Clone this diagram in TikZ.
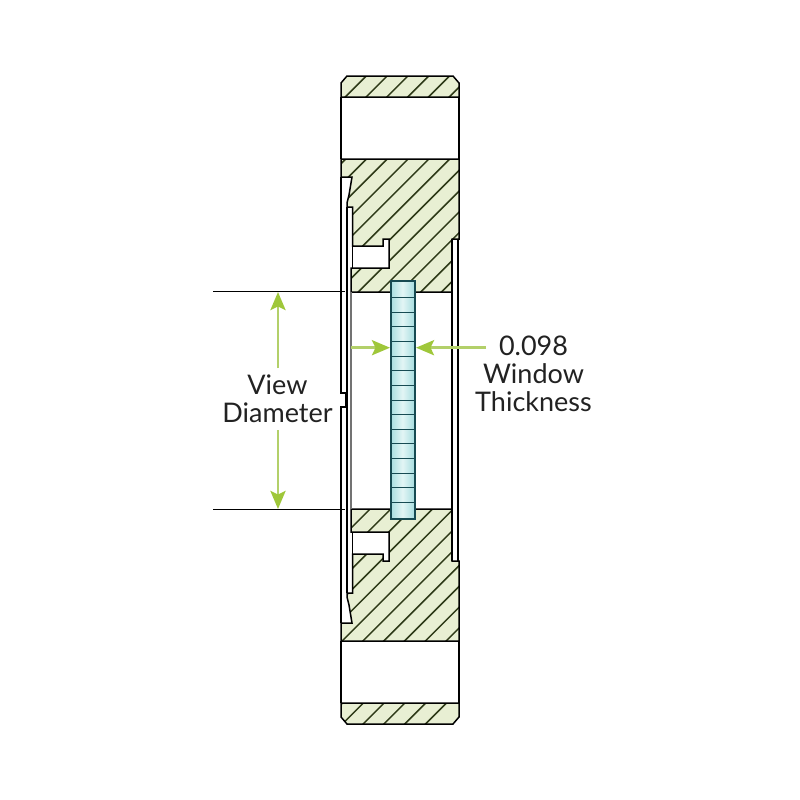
\documentclass[tikz,border=0pt]{standalone}
\usepackage{fontspec}
\setmainfont{Lato}
\usetikzlibrary{arrows.meta}
\definecolor{bodyfill}{HTML}{E8EFD3}
\definecolor{hatchcol}{HTML}{2E3A18}
\definecolor{glassedge}{HTML}{174A52}
\definecolor{arrowline}{HTML}{B3D06A}
\definecolor{arrowhead}{HTML}{9FC73A}
\definecolor{labelcol}{HTML}{222222}
\definecolor{stripA}{HTML}{A9DEE0}
\definecolor{stripB}{HTML}{E2F5F5}
\tikzset{
  x=1pt,y=-1pt,
  partline/.style={draw=black,line width=1.5pt,line join=miter},
  hatchline/.style={draw=hatchcol,line width=1.5pt},
  leader/.style={draw=black,line width=1.1pt},
  dimarrow/.style={draw=arrowline,line width=2.8pt,-{Stealth[length=18pt,width=15pt,inset=3.5pt,color=arrowhead]}},
  dimlabel/.style={font=\fontsize{27}{28}\selectfont,text=labelcol,align=center,inner sep=0pt},
  glassrule/.style={draw=glassedge,line width=1.4pt},
}
\newcommand{\hatchall}{%
  \foreach \k in {0,...,34}{%
    \draw[hatchline] ({442.3+20.8*\k},0) -- (0,{442.3+20.8*\k});
  }%
}
\newcommand{\toppoly}{(347,76) -- (453,76) -- (459,83) -- (459,97) -- (341,97) -- (341,83) -- cycle}
\newcommand{\botpoly}{(347,724) -- (453,724) -- (459,717) -- (459,703) -- (341,703) -- (341,717) -- cycle}
\newcommand{\upperpoly}{(341,159) -- (459,159) -- (459,239) -- (452,239) -- (452,292) -- (351,292) -- (351,268) -- (389,268) -- (389,239) -- (383,239) -- (383,246) -- (352.5,246) -- (352.5,207) -- (347,207) -- (347,203) -- (349,195) -- (352,177) -- (341,177) -- cycle}
\newcommand{\lowerpoly}{(341,641) -- (459,641) -- (459,561) -- (452,561) -- (452,509) -- (351,509) -- (351,532) -- (389,532) -- (389,561) -- (383,561) -- (383,554) -- (352.5,554) -- (352.5,593) -- (347,593) -- (347,597) -- (349,605) -- (352,623) -- (341,623) -- cycle}
\begin{document}
\begin{tikzpicture}
\useasboundingbox (0,0) rectangle (800,800);
\fill[white] (0,0) rectangle (800,800);
% hatched section faces
\fill[bodyfill] \toppoly;
\fill[bodyfill] \botpoly;
\fill[bodyfill] \upperpoly;
\fill[bodyfill] \lowerpoly;
\begin{scope}\clip \toppoly;\hatchall\end{scope}
\begin{scope}\clip \botpoly;\hatchall\end{scope}
\begin{scope}\clip \upperpoly;\hatchall\end{scope}
\begin{scope}\clip \lowerpoly;\hatchall\end{scope}
\draw[partline] \toppoly;
\draw[partline] \botpoly;
\draw[partline] \upperpoly;
\draw[partline] \lowerpoly;
% white gaps between flange sections
\draw[partline] (341,97) -- (341,159);
\draw[partline] (459,97) -- (459,159);
\draw[partline] (341,641) -- (341,703);
\draw[partline] (459,641) -- (459,703);
% left retaining plate
\draw[partline] (341,177) -- (341,393) -- (346,393) -- (346,407) -- (341,407) -- (341,623);
\draw[partline] (347,207) -- (347,593);
\draw[draw=black!55,line width=1.2pt] (351,292) -- (351,509);
\draw[partline] (352.5,246) -- (352.5,268);
\draw[partline] (352.5,532) -- (352.5,554);
% right slot
\draw[partline] (452,239) -- (452,561);
\draw[partline] (458.2,239) -- (458.2,561);
% window: side-to-side tint built from strips
\foreach \i in {0,...,23}{%
  \pgfmathsetmacro{\mixv}{100-100*abs(\i-11.5)/11.5}
  \fill[stripB!\mixv!stripA] ({391+\i},281.5) rectangle ({392.2+\i},519.5);
}
\foreach \k in {-7,...,7}{%
  \pgfmathsetmacro{\ruley}{floor(400+14.65*\k)+0.5}
  \draw[glassrule] (391.5,\ruley) -- (414.5,\ruley);
}
\fill[glassedge] (390.3,280.4) rectangle (392.4,520.4);
\fill[glassedge] (413.6,280.4) rectangle (415.7,520.4);
\fill[glassedge] (390.3,280.4) rectangle (415.7,282.4);
\fill[glassedge] (390.3,518.4) rectangle (415.7,520.4);
% dimension leaders
\coordinate (ltop) at (213,291.5);
\coordinate (ltopend) at (345,291.5);
\coordinate (lbot) at (213,509.5);
\coordinate (lbotend) at (345,509.5);
\draw[leader] (ltop) -- (ltopend);
\draw[leader] (lbot) -- (lbotend);
% labels
\node[dimlabel] (viewlabel) at (277.5,399) {View\\Diameter};
\node[dimlabel] (thicklabel) at (533.5,373.5) {0.098\\Window\\Thickness};
% dimension arrows
\coordinate (vupstart) at (278,368);
\coordinate (vuptip) at (278,292);
\coordinate (vdownstart) at (278,430);
\coordinate (vdowntip) at (278,509);
\coordinate (hleftstart) at (351,347.7);
\coordinate (hlefttip) at (390,347.7);
\coordinate (hrightstart) at (486,347.7);
\coordinate (hrighttip) at (416,347.7);
\draw[dimarrow] (vupstart) -- (vuptip);
\draw[dimarrow] (vdownstart) -- (vdowntip);
\draw[dimarrow] (hleftstart) -- (hlefttip);
\draw[dimarrow] (hrightstart) -- (hrighttip);
\end{tikzpicture}
\end{document}
